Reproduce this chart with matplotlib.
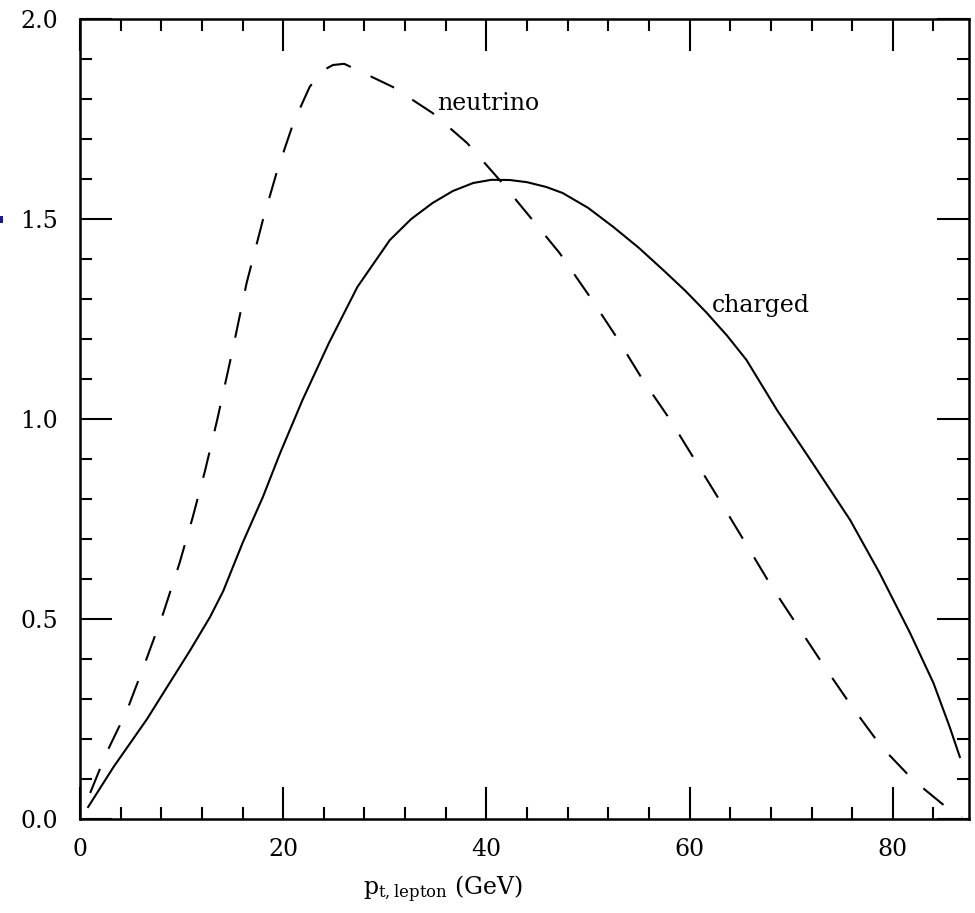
import matplotlib
matplotlib.use("Agg")
import matplotlib.pyplot as plt
from matplotlib.ticker import MultipleLocator, FixedLocator
from matplotlib.patches import Rectangle

# Data
charged_x = [0.8, 3.3, 6.6, 8.2, 10.8, 12.8, 14.1, 16.0, 18.0, 19.7, 21.9, 24.5,
             27.3, 30.5, 32.6, 34.7, 36.7, 38.7, 40.5, 42.3, 44.0, 45.9, 47.5, 50.0, 52.5,
             55.0, 57.4, 59.6, 61.7, 63.7, 65.6, 68.6, 72.1, 75.8, 78.7, 81.7, 84.0, 85.6, 86.6]
charged_y = [0.03, 0.13, 0.25, 0.315, 0.42, 0.505, 0.57, 0.69, 0.805, 0.915, 1.0475, 1.19,
             1.33, 1.4475, 1.50, 1.54, 1.57, 1.59, 1.598, 1.5975, 1.592, 1.58, 1.565, 1.528, 1.48,
             1.428, 1.3725, 1.32, 1.265, 1.208, 1.1475, 1.0225, 0.89, 0.7475, 0.615, 0.465, 0.34, 0.23, 0.155]

neutrino_x = [1.0, 2.6, 4.6, 6.4, 8.2, 9.8, 11.1, 12.3, 13.5, 15.0, 16.4, 18.0, 19.4,
              21.0, 22.6, 23.8, 24.9, 26.0, 27.3, 30.8, 34.7, 38.1, 41.3, 44.3, 47.2, 50.2, 52.8,
              55.4, 58.1, 60.7, 63.0, 65.5, 68.1, 70.7, 73.3, 76.0, 78.9, 82.0, 85.6, 86.8]
neutrino_y = [0.065, 0.165, 0.27, 0.39, 0.515, 0.64, 0.755, 0.87, 0.9975, 1.17, 1.34, 1.4975, 1.62,
              1.74, 1.83, 1.87, 1.885, 1.888, 1.8725, 1.83, 1.765, 1.69, 1.5975, 1.505, 1.415, 1.305,
              1.205, 1.0975, 0.9975, 0.89, 0.795, 0.69, 0.58, 0.48, 0.38, 0.28, 0.18, 0.0975, 0.0225, 0.005]

x_major = [0, 20, 40, 60, 80]
y_major = [0.0, 0.5, 1.0, 1.5, 2.0]
y_labels = ["0.0", "0.5", "1.0", "1.5", "2.0"]

plt.rcParams['font.family'] = ['DejaVu Serif']
plt.rcParams['mathtext.fontset'] = 'dejavuserif'

W, H = 975, 913
fig = plt.figure(figsize=(W / 100, H / 100), dpi=100)
ax = fig.add_axes([80 / W, (H - 819) / H, (969 - 80) / W, (819 - 19) / H])

ax.plot(charged_x, charged_y, color='black', lw=1.5)
ax.plot(neutrino_x, neutrino_y, color='black', lw=1.5, dashes=(12.5, 10.5))

ax.set_xlim(0, 87.5)
ax.set_ylim(0, 2.0)

ax.xaxis.set_major_locator(FixedLocator(x_major))
ax.xaxis.set_minor_locator(MultipleLocator(4))
ax.yaxis.set_major_locator(FixedLocator(y_major))
ax.yaxis.set_minor_locator(MultipleLocator(0.1))
ax.set_yticklabels(y_labels)

ax.tick_params(which='both', direction='in', top=True, right=True, width=1.5, colors='black')
ax.tick_params(which='major', length=23, labelsize=17)
ax.tick_params(which='minor', length=8.5)
ax.tick_params(axis='x', which='major', pad=14)
ax.tick_params(axis='y', which='major', pad=16)
for s in ax.spines.values():
    s.set_linewidth(1.8)

ax.text(35.1, 1.7725, "neutrino", fontsize=17, ha='left', va='baseline')
ax.text(62.2, 1.2675, "charged", fontsize=17, ha='left', va='baseline')

fig.text(363 / W, (H - 895) / H, r"$\mathrm{p}_{\mathrm{t,lepton}}$ (GeV)",
         fontsize=17, ha='left', va='baseline')

fig.patches.append(Rectangle((0, (H - 223) / H), 3 / W, 7 / H, transform=fig.transFigure,
                             facecolor='#1a1a8c', edgecolor='none', figure=fig))

fig.savefig("out.png", dpi=100)
